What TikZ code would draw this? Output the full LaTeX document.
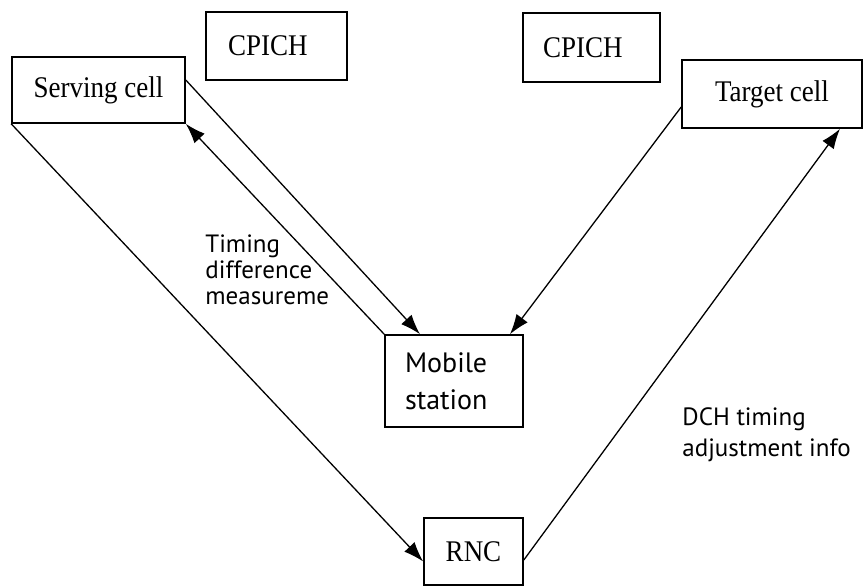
\documentclass[tikz,border=0pt]{standalone}
\usepackage{fontspec}
\setmainfont{Liberation Serif}[FakeStretch=0.9]
\newfontfamily\labelfont{PT Sans}
\usetikzlibrary{positioning,arrows.meta}

\begin{document}
\begin{tikzpicture}[x=0.5pt,y=-0.5pt,
        cellbox/.style={draw, line width=0.8pt, inner sep=0pt, font=\fontsize{15}{18}\selectfont},
        leftbox/.style={cellbox, inner xsep=10pt, align=left},
        msg/.style={-{Latex[length=10pt,width=7pt]}, line width=0.65pt},
        lbl/.style={anchor=north west, inner sep=0pt, align=left}]
    \useasboundingbox (0,0) rectangle (864,586);
    % cells and pilot channels
    \node[cellbox, minimum width=86.5pt, minimum height=33pt] (serving) at (98.5,90) {Serving cell};
    \node[leftbox, inner xsep=11pt, text width=48.5pt, minimum height=34pt] (cpichA) at (276.5,46) {CPICH};
    \node[leftbox, text width=48.5pt, minimum height=34.5pt] (cpichB) at (591.5,47.5) {CPICH};
    \node[cellbox, minimum width=90pt, minimum height=34pt] (target) at (772,94) {Target cell};
    \node[leftbox, text width=49pt, minimum height=46pt,
          font=\labelfont\fontsize{14}{18.5}\selectfont] (mobile) at (454,381) {Mobile\\station};
    \node[cellbox, minimum width=49.5pt, minimum height=33.5pt] (rnc) at (473.5,551.5) {RNC};
    % signalling
    \draw[msg] (serving.south west) -- ([yshift=-5pt]rnc.west);
    \draw[msg] ([yshift=5pt]serving.east) -- ([xshift=-17pt]mobile.north);
    \draw[msg] (mobile.north west) -- (serving.south east);
    \draw[msg] ([yshift=-6.5pt]target.west) -- ([xshift=28pt]mobile.north);
    \draw[msg] ([yshift=-4.25pt]rnc.east) -- ([xshift=34pt]target.south);
    % labels
    \node[lbl, font=\labelfont\fontsize{12.5}{13}\selectfont] (tdm) at (205,234) {Timing\\difference\\measureme};
    \node[lbl, font=\labelfont\fontsize{12.5}{15.5}\selectfont] (dch) at (682,407) {DCH timing\\adjustment info};
\end{tikzpicture}
\end{document}
